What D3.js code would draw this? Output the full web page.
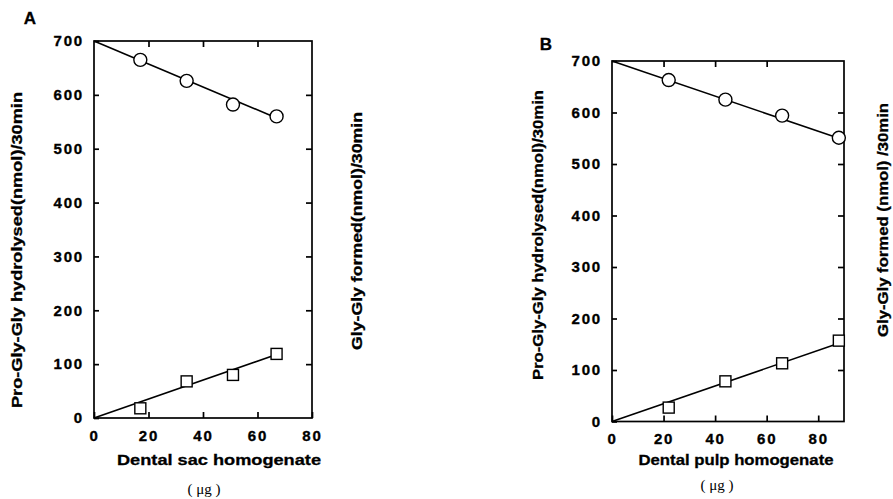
<!DOCTYPE html>
<html>

<head>
    <style type="text/css">
    html,
    body {
        margin: 0px;
        padding: 0px;
        background: #fff;
        font-family: 'Liberation Sans', Arial, sans-serif;
    }

    .frame {
        fill: none;
        stroke: #000;
        stroke-width: 1.7px;
    }

    .tick line {
        stroke: #000;
        stroke-width: 1.7px;
    }

    .tick text {
        font-size: 15px;
        font-weight: bold;
        letter-spacing: 1.8px;
        fill: #000;
        stroke: #000;
        stroke-width: 0.35px;
    }

    .fit {
        fill: none;
        stroke: #000;
        stroke-width: 1.6px;
    }

    .marker {
        fill: #fff;
        stroke: #000;
        stroke-width: 1.4px;
    }

    .title {
        font-weight: bold;
        fill: #000;
        stroke: #000;
        stroke-width: 0.3px;
    }
    </style>
    <script src="https://cdn.jsdelivr.net/npm/d3@7"></script>
    <title>Pro-Gly-Gly</title>
</head>

<body>
</body>
<script type="text/javascript">
var width = 893;
var height = 499;

// panel A : dental sac homogenate (ug)
var sacX = [17, 34, 51, 67];
var sacHydrolysed = [665, 626, 582, 560];
var sacFormed = [18, 68, 80, 119];
// fitted lines, drawn from the origin to the last dose
var sacFitX = [0, 67];
var sacFitHydrolysed = [700, 557];
var sacFitFormed = [0, 118];

// panel B : dental pulp homogenate (ug)
var pulpX = [22, 44, 66, 88];
var pulpHydrolysed = [663, 625, 594, 551];
var pulpFormed = [27, 78, 113, 157];
var pulpFitX = [0, 88];
var pulpFitHydrolysed = [700, 550];
var pulpFitFormed = [0, 152];

var yTicks = [0, 100, 200, 300, 400, 500, 600, 700];
var sacXTicks = [0, 20, 40, 60, 80];
var pulpXTicks = [0, 20, 40, 60, 80];

var svg = d3.select("body")
    .append("svg")
    .attr("width", width)
    .attr("height", height);

var panels = [{
    letter: "A",
    box: { left: 94, top: 41, right: 312, bottom: 418 },
    xMax: 80,
    xTicks: sacXTicks,
    x: sacX,
    hydrolysed: sacHydrolysed,
    formed: sacFormed,
    fitX: sacFitX,
    fitHydrolysed: sacFitHydrolysed,
    fitFormed: sacFitFormed,
    xTitle: "Dental sac homogenate",
    yTitle: "Pro-Gly-Gly hydrolysed(nmol)/30min",
    y2Title: "Gly-Gly formed(nmol)/30min",
    letterPos: [30, 24],
    yTitlePos: [17, 250, 316],
    y2TitlePos: [357, 231, 238],
    xTitlePos: [219, 465, 204],
    unitPos: [204, 494]
}, {
    letter: "B",
    box: { left: 612, top: 61, right: 844, bottom: 421.5 },
    xMax: 90,
    xTicks: pulpXTicks,
    x: pulpX,
    hydrolysed: pulpHydrolysed,
    formed: pulpFormed,
    fitX: pulpFitX,
    fitHydrolysed: pulpFitHydrolysed,
    fitFormed: pulpFitFormed,
    xTitle: "Dental pulp homogenate",
    yTitle: "Pro-Gly-Gly hydrolysed(nmol)/30min",
    y2Title: "Gly-Gly formed (nmol) /30min",
    letterPos: [546, 50],
    yTitlePos: [538, 235, 290],
    y2TitlePos: [883, 220, 234],
    xTitlePos: [736, 465, 195],
    unitPos: [717, 490]
}];

panels.forEach(drawPanel);

function drawPanel(p) {
    var b = p.box;
    var x = d3.scaleLinear().domain([0, p.xMax]).range([b.left, b.right]);
    var y = d3.scaleLinear().domain([0, 700]).range([b.bottom, b.top]);
    var g = svg.append("g");

    // ticks point inwards on every side
    g.append("g")
        .attr("transform", "translate(0," + b.bottom + ")")
        .call(d3.axisBottom(x).tickValues(p.xTicks).tickSize(-6).tickSizeOuter(0).tickPadding(12))
        .call(function(a) { a.select(".domain").remove(); });
    g.append("g")
        .attr("transform", "translate(0," + b.top + ")")
        .call(d3.axisTop(x).tickValues(p.xTicks.slice(1, -1)).tickSize(-6).tickFormat(""))
        .call(function(a) { a.select(".domain").remove(); });
    g.append("g")
        .attr("transform", "translate(" + b.left + ",0)")
        .call(d3.axisLeft(y).tickValues(yTicks).tickSize(-5).tickSizeOuter(0).tickPadding(10))
        .call(function(a) { a.select(".domain").remove(); });
    g.append("g")
        .attr("transform", "translate(" + b.right + ",0)")
        .call(d3.axisRight(y).tickValues(yTicks.slice(1, -1)).tickSize(-6).tickFormat(""))
        .call(function(a) { a.select(".domain").remove(); });

    g.append("rect")
        .attr("class", "frame")
        .attr("x", b.left)
        .attr("y", b.top)
        .attr("width", b.right - b.left)
        .attr("height", b.bottom - b.top);

    var line = d3.line()
        .x(function(d) { return x(d[0]); })
        .y(function(d) { return y(d[1]); });

    g.append("path")
        .attr("class", "fit")
        .attr("d", line(d3.zip(p.fitX, p.fitHydrolysed)));
    g.append("path")
        .attr("class", "fit")
        .attr("d", line(d3.zip(p.fitX, p.fitFormed)));

    g.selectAll(".circ")
        .data(d3.zip(p.x, p.hydrolysed))
        .enter().append("circle")
        .attr("class", "marker")
        .attr("cx", function(d) { return x(d[0]); })
        .attr("cy", function(d) { return y(d[1]); })
        .attr("r", 6.5);

    g.selectAll(".sq")
        .data(d3.zip(p.x, p.formed))
        .enter().append("rect")
        .attr("class", "marker")
        .attr("x", function(d) { return x(d[0]) - 5.5; })
        .attr("y", function(d) { return y(d[1]) - 5.5; })
        .attr("width", 11)
        .attr("height", 11);

    // titles
    g.append("text")
        .attr("class", "title")
        .attr("x", p.letterPos[0])
        .attr("y", p.letterPos[1])
        .attr("text-anchor", "middle")
        .style("font-size", "17px")
        .text(p.letter);

    g.append("text")
        .attr("class", "title")
        .attr("transform", "translate(" + p.yTitlePos[0] + "," + p.yTitlePos[1] + ") rotate(-90)")
        .attr("text-anchor", "middle")
        .attr("dy", "0.35em")
        .attr("textLength", p.yTitlePos[2])
        .attr("lengthAdjust", "spacingAndGlyphs")
        .style("font-size", "14px")
        .text(p.yTitle);

    g.append("text")
        .attr("class", "title")
        .attr("transform", "translate(" + p.y2TitlePos[0] + "," + p.y2TitlePos[1] + ") rotate(-90)")
        .attr("text-anchor", "middle")
        .attr("dy", "0.35em")
        .attr("textLength", p.y2TitlePos[2])
        .attr("lengthAdjust", "spacingAndGlyphs")
        .style("font-size", "14px")
        .text(p.y2Title);

    g.append("text")
        .attr("class", "title")
        .attr("x", p.xTitlePos[0])
        .attr("y", p.xTitlePos[1])
        .attr("text-anchor", "middle")
        .attr("textLength", p.xTitlePos[2])
        .attr("lengthAdjust", "spacingAndGlyphs")
        .style("font-size", "15px")
        .text(p.xTitle);

    g.append("text")
        .attr("x", p.unitPos[0])
        .attr("y", p.unitPos[1])
        .attr("text-anchor", "middle")
        .style("font-family", "'Liberation Serif', serif")
        .style("font-size", "15px")
        .text("( \u03bcg )");
}
</script>

</html>
